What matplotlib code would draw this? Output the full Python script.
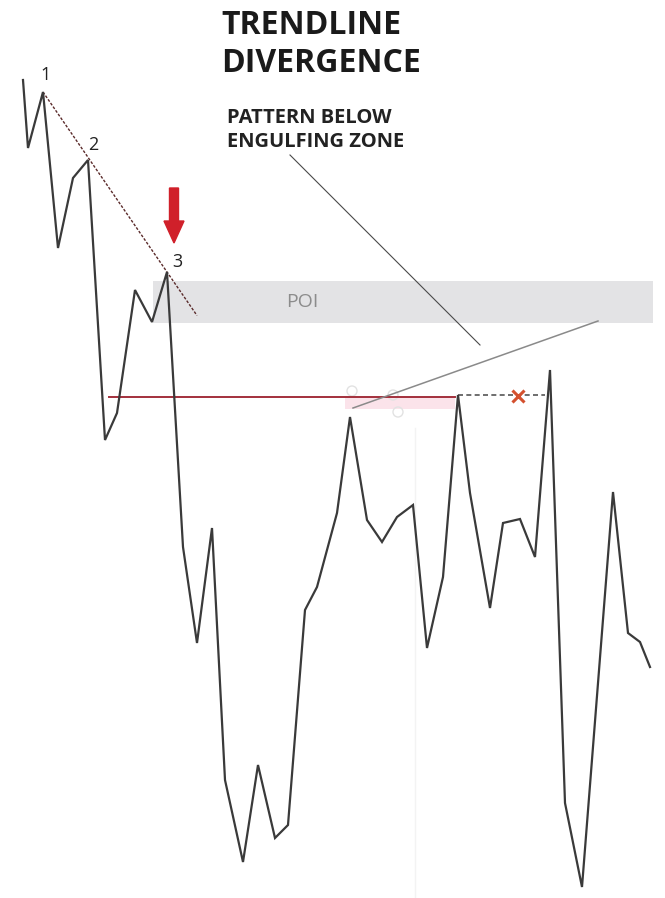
import matplotlib
matplotlib.use("Agg")
import matplotlib.pyplot as plt
from matplotlib.patches import Rectangle, Circle, FancyArrow

# ---- data (time units, price units; price axis increases upward) ----
H = 898
time = [23, 28, 43, 58, 73, 88, 105, 117, 135, 152, 167, 183, 197, 212, 225, 243,
        258, 275, 288, 305, 317, 337, 350, 367, 382, 397, 413, 427, 443, 458, 470,
        490, 503, 520, 535, 550, 565, 582, 613, 628, 640, 650]
price = [818, 750, 806, 650, 720, 738, 458, 485, 608, 576, 626, 351, 255, 370, 118, 36,
         133, 60, 73, 288, 311, 385, 481, 378, 356, 381, 393, 250, 321, 503, 405,
         290, 375, 379, 341, 528, 95, 11, 406, 265, 256, 231]

swing_labels = ["1", "2", "3"]
swing_idx = [2, 5, 10]

trend_end_time = 197
level_price = 501
level_start, level_end = 109, 455
broken_end = 545
x_mark_time = 518
poi_low, poi_high = 575, 617
poi_start, poi_end = 153, 653

title_lines = ["TRENDLINE", "DIVERGENCE"]
subtitle_lines = ["PATTERN BELOW", "ENGULFING ZONE"]

fig = plt.figure(figsize=(6.65, 8.98), dpi=100)
ax = fig.add_axes([0, 0, 1, 1])
ax.set_xlim(0, 665)
ax.set_ylim(0, H)
ax.axis("off")

# POI zone
ax.add_patch(Rectangle((poi_start, poi_low), poi_end - poi_start, poi_high - poi_low,
                       facecolor="#e3e3e5", edgecolor="none", zorder=1))
ax.text(302, (poi_low + poi_high) / 2, "POI",
        fontsize=14, color="#8c8c8c", ha="center", va="center",
        family="Open Sans", zorder=2)

# faint vertical guide
ax.plot([415, 415], [0, 470], color="#f3f3f3", lw=1.0, zorder=0)

# engulfing zone highlight
ax.add_patch(Rectangle((345, level_price - 12), level_end - 345, 12,
                       facecolor="#fbe3ea", edgecolor="none", zorder=1))
for cx, cy in [(352, 507), (398, 486), (393, 503)]:
    ax.add_patch(Circle((cx, cy), 5, facecolor="none", edgecolor="#e2e2e2", lw=1.0, zorder=2))

# key level
ax.plot([level_start, level_end], [level_price, level_price], color="#a3303c", lw=1.4, zorder=3)
ax.plot([time[29], broken_end], [level_price + 2, level_price + 2], color="#555555",
        lw=1.2, ls=(0, (3, 2)), zorder=3)
ax.plot([x_mark_time], [level_price + 1], marker="x", color="#d4502e", ms=9, mew=2.2, zorder=4)

# trendline through swing highs
i1, i3 = swing_idx[0], swing_idx[2]
slope = (price[i3] - price[i1]) / (time[i3] - time[i1])
ax.plot([time[i1], trend_end_time],
        [price[i1], price[i1] + slope * (trend_end_time - time[i1])],
        color="#5a2a2a", lw=1.0, ls=(0, (2, 1.2)), zorder=3)

# annotation pointer lines
ax.plot([290, 480], [H - 155, H - 345], color="#4a4a4a", lw=0.8, zorder=3)
ax.plot([353, 598], [H - 408, H - 321], color="#8a8a8a", lw=1.1, zorder=3)

# price line
ax.plot(time, price, color="#3a3a3a", lw=1.6, solid_joinstyle="miter", zorder=5)

# swing labels
offsets = [(3, 17), (5, 15), (10, 10)]
for lab, idx, (dx, dy) in zip(swing_labels, swing_idx, offsets):
    ax.text(time[idx] + dx, price[idx] + dy, lab, fontsize=13, color="#222222",
            ha="center", va="center", family="Open Sans", zorder=6)

# red arrow
ax.add_patch(FancyArrow(174, H - 188, 0, -55, width=9, head_width=20, head_length=22,
                        length_includes_head=True, color="#d0202a", zorder=6))

# titles
for line, yc in zip(title_lines, [25, 64]):
    ax.text(221, H - yc, line, fontsize=23, fontweight="bold", color="#1a1a1a",
            ha="left", va="center", family="Open Sans")
for line, yc in zip(subtitle_lines, [118, 142]):
    ax.text(227, H - yc, line, fontsize=14.5, fontweight="bold", color="#222222",
            ha="left", va="center", family="Open Sans")

fig.savefig("out.png", dpi=100)
